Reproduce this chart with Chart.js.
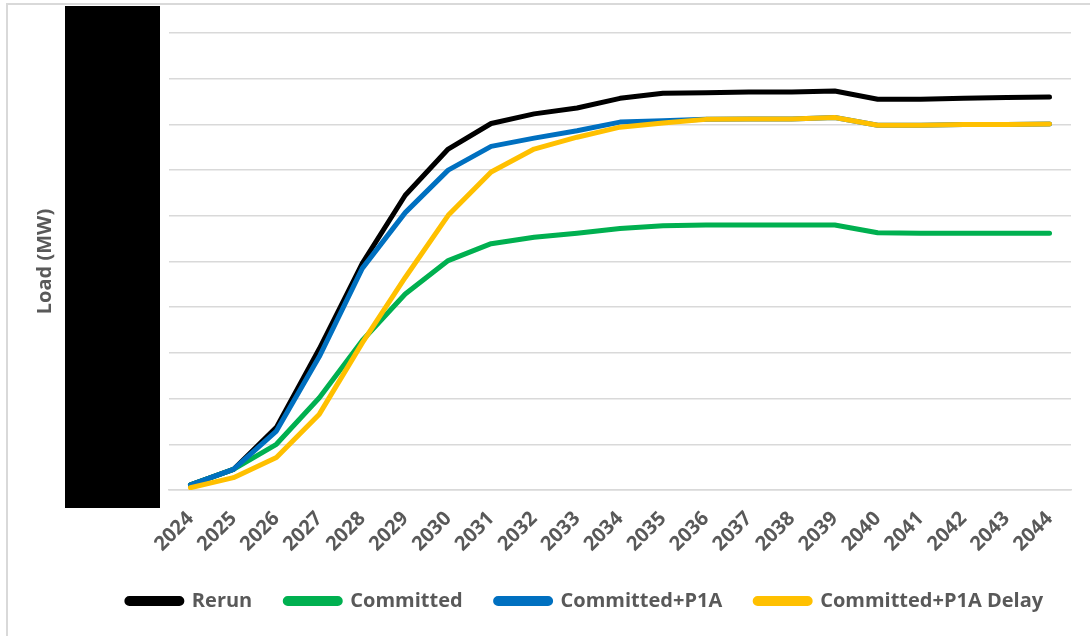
<!DOCTYPE html>
<html>
<head>
<meta charset="utf-8">
<script src="https://cdn.jsdelivr.net/npm/chart.js@4/dist/chart.umd.min.js"></script>
<style>
  html, body { margin: 0; padding: 0; background: #ffffff; }
  #frame { position: absolute; left: 6px; top: 3px; width: 1084px; height: 633px;
           border-left: 2px solid #d9d9d9; border-top: 2px solid #d9d9d9; }
  #wrap { position: absolute; left: 0; top: 0; width: 1090px; height: 636px; }
</style>
</head>
<body>
<div id="frame"></div>
<div id="wrap"><canvas id="c" width="1090" height="636"></canvas></div>
<script>
const years = ['2024','2025','2026','2027','2028','2029','2030','2031','2032','2033','2034',
               '2035','2036','2037','2038','2039','2040','2041','2042','2043','2044'];
const rerun     = [11, 45, 137, 309, 496, 645, 746, 802, 823, 836, 857, 868, 869, 871, 871, 873, 855, 855, 857, 859, 860];
const committed = [11, 45, 100, 202, 327, 429, 502, 539, 553, 562, 572, 578, 580, 580, 580, 580, 563, 562, 562, 562, 562];
const p1a       = [11, 45, 129, 292, 485, 607, 700, 752, 770, 786, 805, 808, 811, 812, 812, 815, 798, 798, 800, 800, 801];
const p1aDelay  = [5, 27, 71, 166, 322, 465, 601, 696, 746, 772, 794, 803, 811, 812, 812, 815, 798, 798, 800, 800, 801];
const seriesNames = ['Rerun', 'Committed', 'Committed+P1A', 'Committed+P1A Delay'];
const seriesColors = ['#000000', '#00B050', '#0070C0', '#FFC000'];
const yTitle = 'Load (MW)';

const FONT = "'Open Sans', 'Liberation Sans', sans-serif";
const GREY = '#595959';

function ds(i, data, order) {
  return {
    label: seriesNames[i], data: data,
    borderColor: seriesColors[i], backgroundColor: seriesColors[i],
    borderWidth: 5, pointRadius: 0, pointHoverRadius: 0, tension: 0,
    borderJoinStyle: 'round', borderCapStyle: 'round', fill: false, order: order
  };
}

const decor = {
  id: 'decor',
  afterLayout(chart) {
    const lg = chart.legend;
    if (lg) {
      const dx = 585 - (lg.left + lg.right) / 2;
      lg.left += dx; lg.right += dx;
    }
  },
  afterDraw(chart) {
    const a = chart.chartArea, ctx = chart.ctx;
    ctx.save();
    ctx.fillStyle = '#000000';
    ctx.fillRect(a.left - 104, a.top - 27, 95, a.bottom - a.top + 45);
    ctx.restore();
  }
};

new Chart(document.getElementById('c'), {
  type: 'line',
  data: {
    labels: years,
    datasets: [ds(0, rerun, 4), ds(1, committed, 3), ds(2, p1a, 2), ds(3, p1aDelay, 1)]
  },
  options: {
    responsive: false,
    animation: false,
    devicePixelRatio: 1,
    layout: { padding: { left: 33, right: 19, top: 33, bottom: 15 } },
    plugins: {
      tooltip: { enabled: false },
      legend: {
        position: 'bottom',
        labels: {
          sort: (a, b) => a.datasetIndex - b.datasetIndex,
          boxWidth: 55, boxHeight: 5, useBorderRadius: true, borderRadius: 2.5,
          padding: 33, color: GREY,
          font: { family: FONT, size: 20, weight: 'bold' }
        }
      }
    },
    scales: {
      x: {
        offset: true,
        grid: { display: false, drawTicks: false },
        border: { display: true, color: '#d9d9d9', width: 1.5 },
        ticks: { color: GREY, minRotation: 45, maxRotation: 45, padding: 17, autoSkip: false,
                 font: { family: FONT, size: 20, weight: 'bold' } },
        afterFit(s) { s.height = 68; }
      },
      y: {
        min: 0, max: 1000,
        ticks: { display: false, stepSize: 100 },
        grid: { color: '#d9d9d9', lineWidth: 1.5, drawTicks: false },
        border: { display: false },
        title: { display: true, text: yTitle, color: GREY, padding: 0,
                 font: { family: FONT, size: 20, weight: 'bold' } },
        afterFit(s) { s.width = 136; }
      }
    }
  },
  plugins: [decor]
});
</script>
</body>
</html>
